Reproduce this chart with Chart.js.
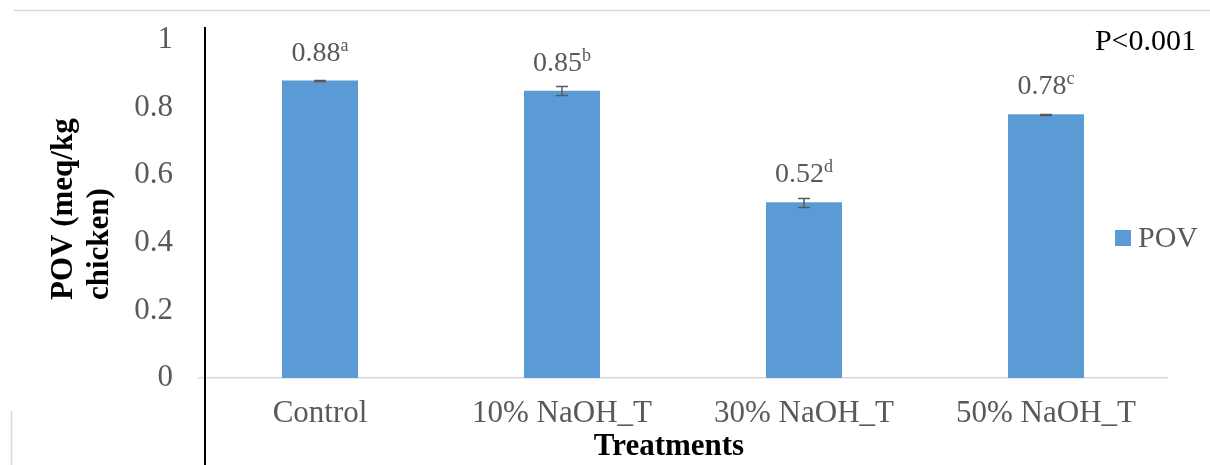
<!DOCTYPE html>
<html>
<head>
<meta charset="utf-8">
<script src="https://cdn.jsdelivr.net/npm/chart.js@4.4.1/dist/chart.umd.min.js"></script>
<style>
  html, body { margin: 0; padding: 0; background: #fff; }
  #wrap { width: 1210px; height: 465px; }
</style>
</head>
<body>
<div id="wrap"><canvas id="chart" width="1210" height="465"></canvas></div>
<script>
/* ---------- data ---------- */
const categories = ["Control", "10% NaOH_T", "30% NaOH_T", "50% NaOH_T"];
const povValues = [0.88, 0.85, 0.52, 0.78];
const povErrors = [0.002, 0.013, 0.013, 0.002];
const sigLetters = ["a", "b", "d", "c"];
const seriesName = "POV";
const yMin = 0, yMax = 1, yStep = 0.2;

const SERIF = "'Times New Roman', 'Liberation Serif', serif";
const GREY_TEXT = "#595959";
const BAR_BLUE = "#5b9bd5";

function line(ctx, x1, y1, x2, y2) {
  ctx.beginPath();
  ctx.moveTo(x1, y1);
  ctx.lineTo(x2, y2);
  ctx.stroke();
}

// extra drawing: frame bits, y axis line, error bars, labels, legend, titles
const decorPlugin = {
  id: "decor",
  beforeDraw(chart) {
    const ctx = chart.ctx;
    ctx.save();
    ctx.fillStyle = "#fff";
    ctx.fillRect(0, 0, chart.width, chart.height);
    ctx.restore();
  },
  afterDatasetsDraw(chart) {
    const { ctx, scales: { y } } = chart;
    const meta = chart.getDatasetMeta(0);
    ctx.save();

    // error bars
    ctx.strokeStyle = GREY_TEXT;
    ctx.lineWidth = 1.5;
    meta.data.forEach((bar, i) => {
      const hi = Math.round(y.getPixelForValue(povValues[i] + povErrors[i])) + 0.5;
      const lo = Math.round(y.getPixelForValue(povValues[i] - povErrors[i])) + 0.5;
      line(ctx, bar.x, hi, bar.x, lo);
      line(ctx, bar.x - 6, hi, bar.x + 6, hi);
      line(ctx, bar.x - 6, lo, bar.x + 6, lo);
    });

    // value labels with superscript letters
    ctx.fillStyle = GREY_TEXT;
    ctx.textBaseline = "alphabetic";
    ctx.textAlign = "left";
    meta.data.forEach((bar, i) => {
      const main = povValues[i].toFixed(2);
      ctx.font = `28px ${SERIF}`;
      const w1 = ctx.measureText(main).width;
      ctx.font = `18px ${SERIF}`;
      const w2 = ctx.measureText(sigLetters[i]).width;
      const x0 = bar.x - (w1 + w2) / 2;
      const base = bar.y - 20;
      ctx.font = `28px ${SERIF}`;
      ctx.fillText(main, x0, base);
      ctx.font = `18px ${SERIF}`;
      ctx.fillText(sigLetters[i], x0 + w1, base - 10);
    });
    ctx.restore();
  },
  afterDraw(chart) {
    const ctx = chart.ctx;
    ctx.save();

    // faint frame pieces
    ctx.strokeStyle = "#d9d9d9";
    ctx.lineWidth = 1.5;
    line(ctx, 14, 10.5, 1210, 10.5);
    line(ctx, 11.5, 411, 11.5, 465);

    // black vertical axis line
    ctx.strokeStyle = "#000";
    ctx.lineWidth = 2;
    line(ctx, 205, 27, 205, 465);

    // P value
    ctx.fillStyle = "#000";
    ctx.font = `30px ${SERIF}`;
    ctx.textAlign = "right";
    ctx.textBaseline = "alphabetic";
    ctx.fillText("P<0.001", 1196, 50);

    // legend
    ctx.fillStyle = BAR_BLUE;
    ctx.fillRect(1115, 230, 16, 16);
    ctx.fillStyle = GREY_TEXT;
    ctx.font = `30px ${SERIF}`;
    ctx.textAlign = "left";
    ctx.textBaseline = "middle";
    ctx.fillText(seriesName, 1138, 239);

    // axis titles
    ctx.fillStyle = "#000";
    ctx.font = `bold 31px ${SERIF}`;
    ctx.textAlign = "center";
    ctx.textBaseline = "alphabetic";
    ctx.fillText("Treatments", 669, 455);

    ctx.translate(0, 300);
    ctx.rotate(-Math.PI / 2);
    ctx.textAlign = "left";
    ctx.fillText("POV (meq/kg", 0, 72);
    ctx.fillText("chicken)", 0, 108);
    ctx.restore();
  }
};

new Chart(document.getElementById("chart"), {
  type: "bar",
  data: {
    labels: categories,
    datasets: [{
      label: seriesName,
      data: povValues,
      backgroundColor: BAR_BLUE,
      borderWidth: 0,
      categoryPercentage: 1,
      barPercentage: 0.314,
    }],
  },
  options: {
    responsive: false,
    animation: false,
    devicePixelRatio: 1,
    layout: { padding: { left: 0, right: 43, top: 40, bottom: 0 } },
    plugins: {
      legend: { display: false },
      tooltip: { enabled: false },
    },
    scales: {
      x: {
        grid: { display: false, drawTicks: false },
        border: { display: true, color: "#d9d9d9", width: 1.5 },
        ticks: {
          color: GREY_TEXT,
          font: { family: SERIF, size: 31 },
          padding: 17,
          maxRotation: 0,
          autoSkip: false,
        },
        afterFit(scale) { scale.height = 87; },
      },
      y: {
        min: yMin,
        max: yMax,
        grid: { display: false, drawTicks: false },
        border: { display: false },
        ticks: {
          stepSize: yStep,
          color: GREY_TEXT,
          font: { family: SERIF, size: 31 },
          padding: 26,
          callback: (v) => String(Number(v.toFixed(1))),
        },
        afterFit(scale) {
          scale.width = 199;
          scale.paddingTop = 0;
          scale.paddingBottom = 0;
        },
      },
    },
  },
  plugins: [decorPlugin],
});
</script>
</body>
</html>
